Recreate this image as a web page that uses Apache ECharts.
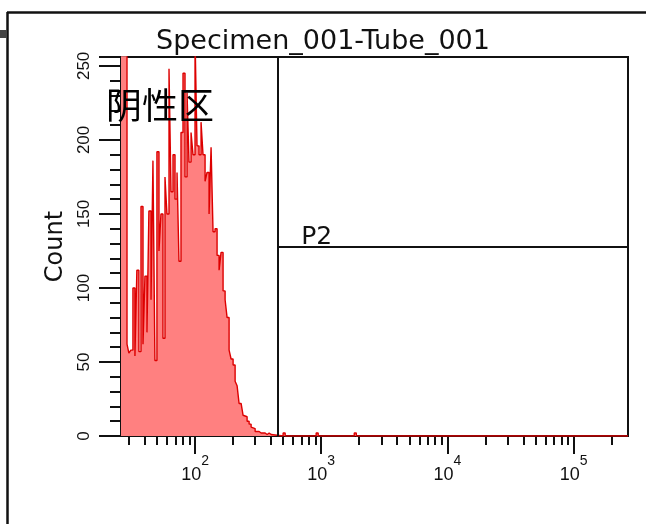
<!DOCTYPE html>
<html>
<head>
<meta charset="utf-8">
<script src="https://cdn.jsdelivr.net/npm/echarts@6/dist/echarts.min.js"></script>
<style>
html, body { margin: 0; padding: 0; background: #fff; }
#chart { width: 646px; height: 524px; }
</style>
</head>
<body>
<div id="chart"></div>
<script>
// histogram bins: left edge of each bin (log x) and its count
const binStart = [
  25.9, 26.8, 27.8, 28.9, 29.9, 31.0, 32.2, 33.4, 34.6, 35.9,
  37.3, 38.7, 40.1, 41.6, 43.1, 44.8, 46.4, 48.1, 49.9, 51.8,
  53.7, 55.7, 57.8, 59.9, 62.2, 64.5, 66.9, 69.4, 72.0, 74.6,
  77.4, 80.3, 83.3, 86.4, 89.6, 93.0, 96.4, 100, 103.7, 107.6,
  111.6, 115.7, 120.1, 124.5, 129.2, 134.0, 138.9, 144.1, 149.5, 155.1,
  160.8, 166.8, 173.1, 179.5, 186.2, 193.1, 200.3, 207.8, 215.4, 223.4,
  231.8, 240.4, 249.3, 258.6, 268.3, 278.3, 288.6, 299.4, 310.5, 322.1,
  334.1, 346.5, 359.4, 372.8, 386.7, 401.1,
  416, 499, 518, 912, 946, 1828, 1897, 270000
]
const binCount = [
  300, 300, 300, 62, 56, 58, 100, 54, 112, 57,
  155, 62, 108, 70, 152, 92, 186, 51, 192, 125,
  150, 66, 175, 150, 248, 165, 190, 160, 178, 118,
  205, 245, 175, 232, 185, 205, 190, 270, 196, 190,
  212, 190, 172, 178, 150, 195, 138, 140, 122, 112,
  124, 98, 92, 80, 58, 52, 48, 37, 34, 22,
  21, 14, 13, 10, 8, 6, 5, 3, 3, 2,
  2, 2, 1, 2, 1, 0,
  0, 2, 0, 2, 0, 2, 0, 0
]

const majorTicks = [100, 1000, 10000, 100000]
const majorExp = ['2', '3', '4', '5']
const minorTicks = [
  30, 40, 50, 60, 70, 80, 90,
  200, 300, 400, 500, 600, 700, 800, 900,
  2000, 3000, 4000, 5000, 6000, 7000, 8000, 9000,
  20000, 30000, 40000, 50000, 60000, 70000, 80000, 90000,
  200000
]

const xMin = 25.9
const xMax = 270000
const yMax = 256

// gate P2
const gateStart = 456
const gateLevel = 128

const chart = echarts.init(document.getElementById('chart'))

const histData = binStart.map((x, i) => [x, binCount[i]])

const option = {
  animation: false,
  backgroundColor: '#fff',
  title: {
    text: 'Specimen_001-Tube_001',
    left: 'center',
    top: 28,
    padding: 0,
    textStyle: {
      fontFamily: 'DejaVu Sans',
      fontSize: 27,
      fontWeight: 'normal',
      color: '#111'
    }
  },
  grid: {
    left: 121,
    right: 18,
    top: 57,
    bottom: 88,
    show: true,
    borderColor: '#111',
    borderWidth: 2,
    outerBoundsMode: 'none'
  },
  xAxis: [
    {
      type: 'log',
      position: 'bottom',
      min: xMin,
      max: xMax,
      axisLine: { show: false },
      splitLine: { show: false },
      axisTick: {
        show: true,
        customValues: majorTicks,
        length: 18,
        lineStyle: { color: '#111', width: 2 }
      },
      axisLabel: {
        show: true,
        customValues: majorTicks,
        margin: 18,
        formatter: (v) => '{b|10}{sup|' + majorExp[majorTicks.indexOf(v)] + '}',
        rich: {
          b: { fontFamily: 'Liberation Sans', fontSize: 18, color: '#111', lineHeight: 30, verticalAlign: 'bottom' },
          sup: { fontFamily: 'Liberation Sans', fontSize: 14, color: '#111', lineHeight: 14, verticalAlign: 'top' }
        }
      }
    },
    {
      type: 'log',
      position: 'bottom',
      offset: 0,
      min: xMin,
      max: xMax,
      axisLine: { show: false },
      splitLine: { show: false },
      axisTick: {
        show: true,
        customValues: minorTicks,
        length: 9,
        lineStyle: { color: '#111', width: 2 }
      },
      axisLabel: { show: false }
    }
  ],
  yAxis: {
    type: 'value',
    min: 0,
    max: yMax,
    interval: 50,
    name: 'Count',
    nameLocation: 'middle',
    nameGap: 52,
    nameTextStyle: { fontFamily: 'DejaVu Sans', fontSize: 24, color: '#111' },
    axisLine: { show: true, lineStyle: { color: '#111', width: 2 } },
    axisTick: { show: true, length: 22, lineStyle: { color: '#111', width: 2 } },
    minorTick: { show: true, splitNumber: 5, length: 11, lineStyle: { color: '#111', width: 2 } },
    splitLine: { show: false },
    axisLabel: {
      rotate: 90,
      margin: 28,
      fontFamily: 'Liberation Sans',
      fontSize: 17,
      color: '#111',
      showMaxLabel: false
    }
  },
  series: [
    {
      type: 'line',
      name: 'histogram',
      step: 'end',
      data: histData,
      showSymbol: false,
      symbol: 'none',
      clip: true,
      lineStyle: { color: '#dd0000', width: 1.4 },
      areaStyle: { color: '#ff8080', opacity: 1 },
      markLine: {
        silent: true,
        symbol: 'none',
        animation: false,
        lineStyle: { color: '#111', width: 2, type: 'solid' },
        data: [
          [
            { coord: [gateStart, 0] },
            { coord: [gateStart, yMax] }
          ],
          [
            {
              coord: [gateStart, gateLevel],
              label: {
                show: true,
                formatter: 'P2',
                position: 'insideStartTop',
                distance: [23, -3],
                fontFamily: 'DejaVu Sans',
                fontSize: 25,
                color: '#111'
              }
            },
            { coord: [xMax, gateLevel] }
          ]
        ],
        label: { show: false }
      }
    }
  ],
  graphic: [
    {
      type: 'text',
      left: 106,
      top: 87,
      z: 100,
      style: {
        text: '阴性区',
        font: '36px "Noto Sans CJK SC"',
        fill: '#000'
      }
    },
    {
      type: 'line',
      shape: { x1: 7, y1: 12.5, x2: 646, y2: 12.5 },
      style: { stroke: '#111', lineWidth: 2.5 }
    },
    {
      type: 'line',
      shape: { x1: 7.5, y1: 12, x2: 7.5, y2: 524 },
      style: { stroke: '#111', lineWidth: 2.5 }
    },
    {
      type: 'rect',
      shape: { x: 0, y: 30, width: 7, height: 8 },
      style: { fill: '#444' }
    }
  ]
}

chart.setOption(option)
</script>
</body>
</html>
